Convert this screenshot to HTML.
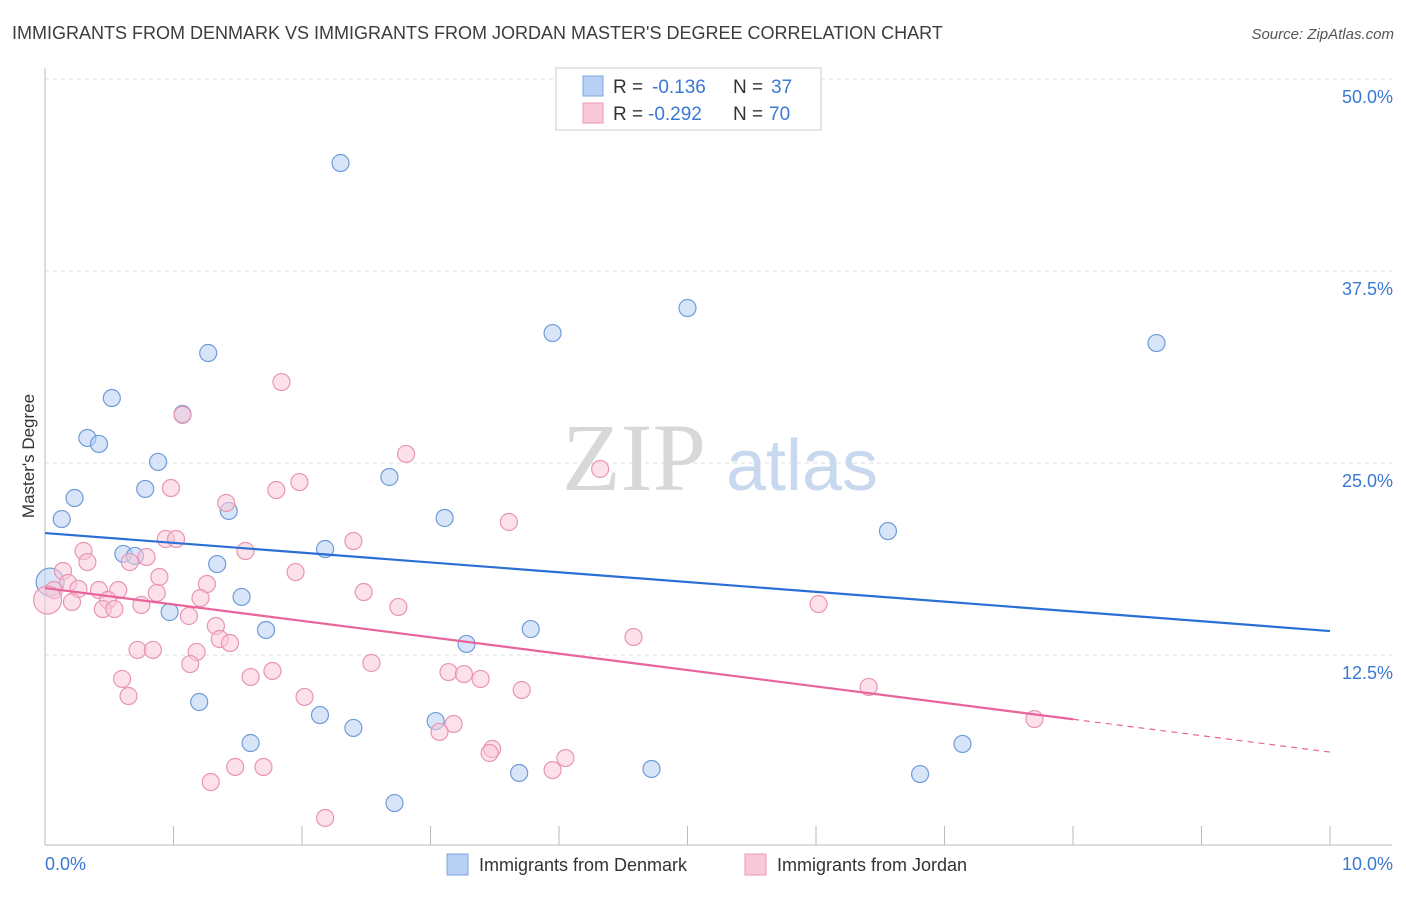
<!DOCTYPE html>
<html><head><meta charset="utf-8"><style>
body{margin:0;background:#fff;font-family:"Liberation Sans",sans-serif;}
svg text{font-family:"Liberation Sans",sans-serif;}
</style></head><body>
<svg id="chart" width="1406" height="892" xmlns="http://www.w3.org/2000/svg">
<text x="12" y="39" font-size="18" fill="#3c3c3c">IMMIGRANTS FROM DENMARK VS IMMIGRANTS FROM JORDAN MASTER'S DEGREE CORRELATION CHART</text>
<text x="1394" y="39" font-size="15" fill="#555" text-anchor="end" font-style="italic">Source: ZipAtlas.com</text>
<g id="grid"></g>
<g>
<text x="634" y="490" font-size="96" fill="#d8d8d8" text-anchor="middle" font-family="Liberation Serif" style="font-family:'Liberation Serif',serif">ZIP</text>
<text x="802" y="490" font-size="72" fill="#c8d8ee" text-anchor="middle">atlas</text>
</g>
<g id="points"></g>
<g id="trends"></g>
<text transform="translate(34,456) rotate(-90)" font-size="17" fill="#333" text-anchor="middle">Master's Degree</text>
<g>
<rect x="556" y="68" width="265" height="62" fill="#fff" stroke="#ccc"/>
<rect x="583" y="76" width="20" height="20" fill="#b8d0f4" stroke="#7da6e0"/>
<rect x="583" y="103" width="20" height="20" fill="#f9c8d8" stroke="#ec9ab5"/>
<text x="613" y="93" font-size="19" fill="#333">R =</text>
<text x="652" y="93" font-size="19" fill="#3a78d4">-0.136</text>
<text x="733" y="93" font-size="19" fill="#333">N =</text>
<text x="771" y="93" font-size="19" fill="#3a78d4">37</text>
<text x="613" y="120" font-size="19" fill="#333">R =</text>
<text x="648" y="120" font-size="19" fill="#3a78d4">-0.292</text>
<text x="733" y="120" font-size="19" fill="#333">N =</text>
<text x="769" y="120" font-size="19" fill="#3a78d4">70</text>
</g>
<g>
<rect x="447" y="854" width="21" height="21" fill="#b8d0f4" stroke="#7da6e0"/>
<text x="479" y="871" font-size="18" fill="#333">Immigrants from Denmark</text>
<rect x="745" y="854" width="21" height="21" fill="#f9c8d8" stroke="#ec9ab5"/>
<text x="777" y="871" font-size="18" fill="#333">Immigrants from Jordan</text>
</g>
</svg>
<script>
const denX=[2.30,5.00,3.95,8.65,1.27,0.52,1.07,0.33,0.42,0.88,0.78,0.23,2.68,1.43,0.13,3.11,6.56,2.18,0.61,0.70,1.34,0.04,1.53,0.97,1.72,3.78,3.28,1.20,2.14,2.40,3.04,1.60,7.14,3.69,4.72,6.81,2.72];
const denY=[44.53,35.09,33.46,32.81,32.16,29.23,28.19,26.63,26.24,25.07,23.31,22.72,24.09,21.88,21.35,21.42,20.57,19.40,19.08,18.95,18.42,17.25,16.28,15.30,14.13,14.19,13.22,9.44,8.59,7.75,8.20,6.77,6.71,4.82,5.08,4.75,2.86];
const jorX=[1.84,1.07,2.81,4.32,0.98,1.80,1.98,1.41,3.61,0.94,1.02,2.40,0.30,1.56,0.79,0.33,0.66,0.14,0.89,0.18,1.95,1.26,0.07,0.42,0.57,0.26,0.87,2.48,1.21,0.49,0.21,0.45,0.54,0.75,2.75,6.02,1.12,1.33,1.36,1.44,4.58,0.72,0.84,1.18,1.13,2.54,1.77,3.14,3.26,1.60,3.39,0.60,6.41,3.71,2.02,0.65,7.70,3.18,3.07,3.48,3.46,4.05,3.95,1.48,1.70,1.29,2.18,0.02];
const jorY=[30.27,28.13,25.59,24.61,23.37,23.24,23.76,22.40,21.16,20.05,20.05,19.92,19.27,19.27,18.88,18.55,18.55,17.97,17.58,17.19,17.90,17.12,16.73,16.73,16.73,16.80,16.54,16.60,16.21,16.08,15.95,15.49,15.49,15.76,15.63,15.82,15.04,14.39,13.54,13.28,13.67,12.83,12.83,12.70,11.91,11.98,11.46,11.39,11.26,11.07,10.94,10.94,10.42,10.22,9.77,9.83,8.33,8.01,7.49,6.38,6.12,5.79,5.01,5.21,5.21,4.23,1.89,16.08];
const yTicks=[12.5,25.0,37.5,50.0];
const xTicks=[0,1,2,3,4,5,6,7,8,9,10];
const denTrend=[20.44,14.06];
const jorTrend=[16.86,6.18];
const jorSolidEnd=8.0;
const NS="http://www.w3.org/2000/svg";
const xs=v=>45+v*128.5, ys=v=>847-v*15.36;
function mk(t,a,p){const e=document.createElementNS(NS,t);for(const k in a)e.setAttribute(k,a[k]);p.appendChild(e);return e;}
const grid=document.getElementById('grid');
yTicks.forEach(t=>{
 const l=mk('line',{x1:45,x2:1392,y1:ys(t),y2:ys(t),stroke:'#ddd','stroke-dasharray':'4,4'},grid);
 
 
 const tx=mk('text',{x:1393,y:ys(t)+24,'font-size':18,fill:'#3a78d4','text-anchor':'end'},grid);
 tx.textContent=t.toFixed(1)+'%';
 
 
});
const ax=mk('line',{x1:45,x2:1392,y1:845,y2:845,stroke:'#bbb'},grid);


const ay=mk('line',{x1:45,x2:45,y1:68,y2:845,stroke:'#bbb'},grid);


xTicks.forEach(t=>{
 const l=mk('line',{x1:xs(t),x2:xs(t),y1:826,y2:845,stroke:'#bbb'},grid);
 
 
});
[[0,'0.0%','start',45],[10,'10.0%','end',1393]].forEach(([v,s,a,x])=>{
 const tx=mk('text',{x:x,y:870,'font-size':18,fill:'#3a78d4','text-anchor':a},grid);
 tx.textContent=s;
 
 
});
const pts=document.getElementById('points');
function dots(X,Y,fill,stroke,name){X.forEach((x,i)=>{
 const big=x<0.06;
 const c=mk('circle',{cx:xs(x),cy:ys(Y[i]),r:big?14:8.5,fill:fill,'fill-opacity':0.55,stroke:stroke,'stroke-width':1.2},pts);
 
 
});}
dots(denX,denY,'#b8d0f4','#6f9bd8','denmark-point');
dots(jorX,jorY,'#f9c8d8','#e995b2','jordan-point');
const tr=document.getElementById('trends');
const bl=mk('line',{x1:xs(0),y1:ys(denTrend[0]),x2:xs(10),y2:ys(denTrend[1]),stroke:'#2b6fd6','stroke-width':2.2},tr);


const jy=x=>jorTrend[0]+(jorTrend[1]-jorTrend[0])*x/10;
const pl=mk('line',{x1:xs(0),y1:ys(jy(0)),x2:xs(jorSolidEnd),y2:ys(jy(jorSolidEnd)),stroke:'#e8649a','stroke-width':2.2},tr);


const pd=mk('line',{x1:xs(jorSolidEnd),y1:ys(jy(jorSolidEnd)),x2:xs(10),y2:ys(jy(10)),stroke:'#e8649a','stroke-width':1.2,'stroke-dasharray':'6,5'},tr);


</script>
</body></html>
